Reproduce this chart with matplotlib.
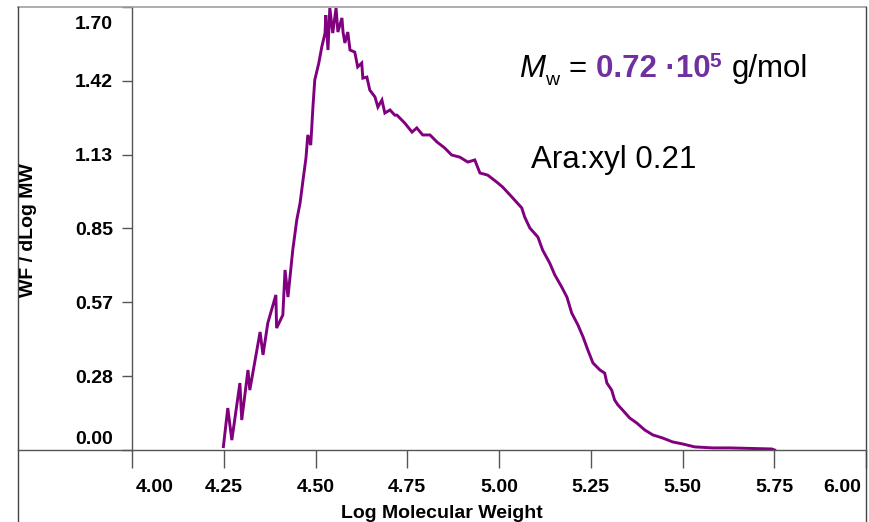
import matplotlib
matplotlib.use("Agg")
import matplotlib.pyplot as plt
from matplotlib.lines import Line2D
from matplotlib.transforms import ScaledTranslation

plt.rcParams["font.family"] = ["Liberation Sans", "DejaVu Sans"]

# ── Data: molecular weight distribution ────────────────────────────────────────
log_mw = [
    4.249, 4.261, 4.272, 4.294, 4.299, 4.316, 4.321, 4.349, 4.357, 4.370,
    4.392, 4.394, 4.411, 4.417, 4.425, 4.438, 4.449, 4.458, 4.466, 4.474,
    4.479, 4.487, 4.493, 4.498, 4.509, 4.517, 4.526, 4.528, 4.534, 4.539,
    4.547, 4.556, 4.561, 4.572, 4.575, 4.580, 4.588, 4.594, 4.607, 4.615,
    4.626, 4.629, 4.640, 4.648, 4.662, 4.670, 4.681, 4.689, 4.703, 4.716,
    4.722, 4.743, 4.763, 4.776, 4.792, 4.812, 4.831, 4.852, 4.871, 4.893,
    4.915, 4.934, 4.948, 4.969, 4.994, 5.010, 5.035, 5.062, 5.070, 5.084,
    5.106, 5.119, 5.138, 5.152, 5.171, 5.185, 5.198, 5.215, 5.229, 5.242,
    5.256, 5.275, 5.288, 5.294, 5.307, 5.315, 5.324, 5.337, 5.356, 5.375,
    5.397, 5.419, 5.446, 5.473, 5.501, 5.533, 5.582, 5.629, 5.743, 5.751,
]
wf_dlogmw = [
    0.013, 0.161, 0.038, 0.257, 0.115, 0.307, 0.230, 0.453, 0.365, 0.487,
    0.595, 0.468, 0.518, 0.691, 0.587, 0.767, 0.883, 0.948, 1.036, 1.120,
    1.209, 1.170, 1.316, 1.420, 1.485, 1.546, 1.600, 1.669, 1.535, 1.696,
    1.600, 1.696, 1.604, 1.658, 1.604, 1.562, 1.604, 1.535, 1.527, 1.470,
    1.485, 1.427, 1.431, 1.381, 1.355, 1.316, 1.343, 1.293, 1.305, 1.285,
    1.285, 1.255, 1.220, 1.236, 1.209, 1.209, 1.182, 1.159, 1.132, 1.124,
    1.105, 1.113, 1.063, 1.055, 1.028, 1.009, 0.971, 0.929, 0.894, 0.852,
    0.817, 0.767, 0.718, 0.672, 0.625, 0.587, 0.526, 0.480, 0.434, 0.384,
    0.334, 0.307, 0.295, 0.257, 0.230, 0.192, 0.173, 0.153, 0.123, 0.104,
    0.077, 0.058, 0.046, 0.031, 0.023, 0.012, 0.008, 0.008, 0.004, 0.000,
]

x_ticks = [4.00, 4.25, 4.50, 4.75, 5.00, 5.25, 5.50, 5.75, 6.00]
x_labels = ["4.00", "4.25", "4.50", "4.75", "5.00", "5.25", "5.50", "5.75", "6.00"]
y_ticks = [0.0, 1.7 / 6, 1.7 / 3, 0.85, 1.7 * 2 / 3, 1.7 * 5 / 6, 1.70]
y_labels = ["0.00", "0.28", "0.57", "0.85", "1.13", "1.42", "1.70"]

# ── Layout (pixels) ────────────────────────────────────────────────────────────
W, H, DPI = 869, 522, 100
AX_L, AX_R, AX_T, AX_B = 132, 866, 7, 450
FRAME_L = 18
PURPLE = "#800080"
TEXT_PURPLE = "#7030A0"
AXIS_GREY = "#555555"


def fx(px):
    return px / W


def fy(py):
    return 1 - py / H


fig = plt.figure(figsize=(W / DPI, H / DPI), dpi=DPI)
ax = fig.add_axes([fx(AX_L), fy(AX_B), fx(AX_R - AX_L), (AX_B - AX_T) / H])

ax.plot(log_mw, wf_dlogmw, color=PURPLE, lw=2.1, solid_joinstyle="miter")
ax.set_xlim(4.0, 6.0)
ax.set_ylim(0.0, 1.70)

for side in ("top", "right", "bottom"):
    ax.spines[side].set_visible(False)
ax.spines["left"].set_color(AXIS_GREY)
ax.spines["left"].set_linewidth(1.0)

ax.set_xticks(x_ticks)
ax.set_xticklabels(x_labels, fontsize=14, fontweight="bold")
ax.set_yticks(y_ticks)
ax.set_yticklabels(y_labels, fontsize=14, fontweight="bold")
ax.tick_params(axis="x", direction="out", length=13, width=1.0,
               color=AXIS_GREY, pad=8)
ax.tick_params(axis="y", direction="out", length=7.2, width=1.0,
               color=AXIS_GREY, pad=6.5)

# keep the end labels inside the frame
xl = ax.get_xticklabels()
xl[0].set_transform(xl[0].get_transform() + ScaledTranslation(23 / DPI, 0, fig.dpi_scale_trans))
xl[-1].set_transform(xl[-1].get_transform() + ScaledTranslation(-24 / DPI, 0, fig.dpi_scale_trans))
yl = ax.get_yticklabels()
yl[0].set_transform(yl[0].get_transform() + ScaledTranslation(0, 13 / DPI, fig.dpi_scale_trans))
yl[-1].set_transform(yl[-1].get_transform() + ScaledTranslation(0, -16 / DPI, fig.dpi_scale_trans))

# outer frame and full-width baseline
fig.add_artist(Line2D([fx(FRAME_L), fx(AX_R)], [fy(AX_T), fy(AX_T)],
                      color="#a0a0a0", lw=1.2))
fig.add_artist(Line2D([fx(FRAME_L), fx(FRAME_L)], [fy(AX_T), 0],
                      color="#444444", lw=1.0))
fig.add_artist(Line2D([fx(AX_R), fx(AX_R)], [fy(AX_T), 0],
                      color="#444444", lw=1.0))
fig.add_artist(Line2D([fx(FRAME_L), fx(AX_R)], [fy(AX_B), fy(AX_B)],
                      color=AXIS_GREY, lw=1.0))

# axis titles
fig.text(fx(442), fy(518), "Log Molecular Weight", fontsize=14,
         fontweight="bold", ha="center", va="baseline")
fig.text(fx(29), fy(230), "WF / dLog MW", fontsize=14, fontweight="bold",
         rotation=90, ha="center", va="center")

# Mw annotation
fig.text(fx(519), fy(77), "M", fontsize=22.5, style="italic", va="baseline")
fig.text(fx(545), fy(85), "w", fontsize=14, va="baseline")
fig.text(fx(568), fy(77), "=", fontsize=22.5, va="baseline")
fig.text(fx(596), fy(77), "0.72 \u00b710", fontsize=22.5, fontweight="bold",
         color=TEXT_PURPLE, va="baseline")
fig.text(fx(709), fy(67), "5", fontsize=15, fontweight="bold",
         color=TEXT_PURPLE, va="baseline")
fig.text(fx(732), fy(77), "g/mol", fontsize=22.5, va="baseline")

fig.text(fx(531), fy(168), "Ara:xyl 0.21", fontsize=22.5, va="baseline")

fig.savefig("out.png", dpi=DPI)
